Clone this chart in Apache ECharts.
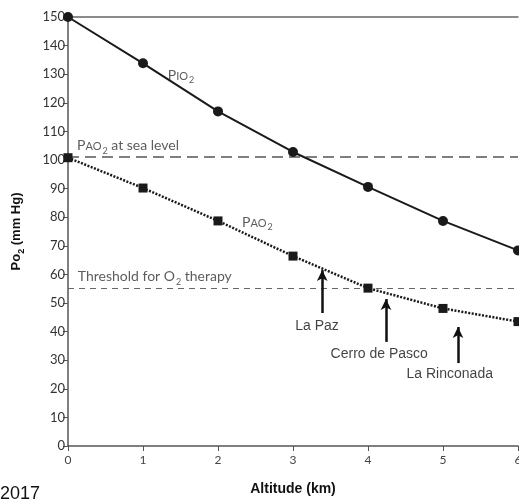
<!DOCTYPE html>
<html>
<head>
<meta charset="utf-8">
<script src="https://cdn.jsdelivr.net/npm/echarts@6/dist/echarts.min.js"></script>
<style>
  html, body { margin: 0; padding: 0; background: #fff; }
  #chart { width: 519px; height: 500px; }
</style>
</head>
<body>
<div id="chart"></div>
<script>
// altitude in km
var altitudes = [0, 1, 2, 3, 4, 5, 6];
// inspired O2 pressure
var pio2 = [150, 133.8, 117, 102.8, 90.6, 78.7, 68.4];
// alveolar O2 pressure
var pao2 = [100.8, 90.2, 78.7, 66.4, 55.2, 48.1, 43.5];

var seaLevelPao2 = 101;
var therapyThreshold = 55;

// cities: altitude of arrow, arrow bottom / tip, label position
var cityNames = ['La Paz', 'Cerro de Pasco', 'La Rinconada'];
var cityArrowX = [3.39, 4.24, 5.2];
var cityArrowFrom = [46.5, 36.4, 29];
var cityArrowTo = [61.5, 51.4, 41.6];
var cityLabelX = [3.32, 4.15, 5.09];
var cityLabelY = [42, 32.2, 25.2];

var yTicks = [0, 150, 10];
var xTicks = [0, 6, 1];

var gill = "Lato, 'Open Sans', sans-serif";
var arial = "'Liberation Sans', Arial, sans-serif";

var pair = function(xs, ys){
	return xs.map(function(x, i){ return [x, ys[i]]; });
};

// rich styles for the small-caps labels, sub = subscript (pushed down by padding)
var capsRich = {
	big: { fontFamily: gill, fontSize: 14, color: '#333', lineHeight: 14, verticalAlign: 'top' },
	sc: { fontFamily: gill, fontSize: 11, color: '#333', lineHeight: 11, verticalAlign: 'top', padding: [3, 0, 0, 0] },
	sub: { fontFamily: gill, fontSize: 9, color: '#333', lineHeight: 9, verticalAlign: 'top', padding: [8, 0, 0, 1] },
	txt: { fontFamily: gill, fontSize: 14, color: '#333', lineHeight: 14, verticalAlign: 'top' }
};

var noteItem = function(x, y, fmt){
	return {
		value: [x, y],
		label: { show: true, position: 'right', distance: 0, formatter: fmt, rich: capsRich }
	};
};

var notes = [
	noteItem(1.33, 129.7, '{big|P}{sc|IO}{sub|2}'),
	noteItem(0.12, 105.2, '{big|P}{sc|AO}{sub|2}{txt| at sea level}'),
	noteItem(2.32, 78.3, '{big|P}{sc|AO}{sub|2}'),
	noteItem(0.13, 59.2, '{txt|Threshold for O}{sub|2}{txt| therapy}')
];

var cityLabels = cityNames.map(function(n, i){
	return {
		value: [cityLabelX[i], cityLabelY[i]],
		label: { show: true, position: 'inside', formatter: n,
			fontFamily: arial, fontSize: 14, color: '#111' }
	};
});

var arrows = cityNames.map(function(n, i){
	return [{ coord: [cityArrowX[i], cityArrowFrom[i]] }, { coord: [cityArrowX[i], cityArrowTo[i]] }];
});

var chart = echarts.init(document.getElementById('chart'));
var option = {
	animation: false,
	backgroundColor: '#fff',
	grid: { left: 68, right: 1, top: 17, bottom: 54, outerBoundsMode: 'none', containLabel: false },
	xAxis: [{
		type: 'value',
		min: xTicks[0], max: xTicks[1], interval: xTicks[2],
		name: 'Altitude (km)',
		nameLocation: 'middle',
		nameGap: 36,
		nameTextStyle: { fontFamily: arial, fontWeight: 'bold', fontSize: 14, color: '#111' },
		axisLine: { lineStyle: { color: '#555', width: 1.5 } },
		axisTick: { length: 5, lineStyle: { color: '#555' } },
		axisLabel: { fontFamily: gill, fontSize: 12, color: '#444', margin: 8 },
		splitLine: { show: false }
	}, {
		type: 'value', position: 'top',
		min: xTicks[0], max: xTicks[1],
		axisLine: { show: true, lineStyle: { color: '#666', width: 1.5 } },
		axisTick: { show: false }, axisLabel: { show: false }, splitLine: { show: false }
	}],
	yAxis: {
		type: 'value',
		min: yTicks[0], max: yTicks[1], interval: yTicks[2],
		name: '{b|Po}{s|2}{b| (mm Hg)}',
		nameLocation: 'middle',
		nameGap: 45,
		nameTextStyle: {
			rich: {
				b: { fontFamily: arial, fontWeight: 'bold', fontSize: 13, color: '#111', lineHeight: 13, verticalAlign: 'top' },
				s: { fontFamily: arial, fontWeight: 'bold', fontSize: 9, color: '#111', lineHeight: 9, verticalAlign: 'top', padding: [7, 0, 0, 0] }
			}
		},
		axisLine: { show: true, lineStyle: { color: '#555', width: 1.5 } },
		axisTick: { show: true, length: 5, lineStyle: { color: '#555' } },
		axisLabel: { fontFamily: gill, fontSize: 13, color: '#333', margin: 3 },
		splitLine: { show: false }
	},
	series: [{
		name: 'PIO2', type: 'line',
		data: pair(altitudes, pio2),
		symbol: 'circle', symbolSize: 10,
		itemStyle: { color: '#1a1a1a' },
		lineStyle: { color: '#1a1a1a', width: 2 },
		z: 5
	}, {
		name: 'PAO2', type: 'line',
		data: pair(altitudes, pao2),
		symbol: 'rect', symbolSize: 9,
		itemStyle: { color: '#1a1a1a' },
		lineStyle: { color: '#1a1a1a', width: 2.5, type: [2, 1.5] },
		z: 5,
		markLine: {
			silent: true, symbol: 'none', label: { show: false },
			data: [
				{ yAxis: seaLevelPao2, lineStyle: { color: '#555', width: 1.5, type: [11, 6] } },
				{ yAxis: therapyThreshold, lineStyle: { color: '#666', width: 1.2, type: [6, 5] } }
			]
		}
	}, {
		name: 'arrows', type: 'line', data: [],
		markLine: {
			silent: true, symbol: ['none', 'arrow'], symbolSize: [8, 11],
			label: { show: false },
			lineStyle: { color: '#111', width: 2.5, type: 'solid' },
			data: arrows
		}
	}, {
		name: 'notes', type: 'scatter', symbolSize: 0,
		data: notes.concat(cityLabels),
		silent: true, z: 6
	}],
	graphic: [{
		type: 'text', left: 0, top: 485,
		style: { text: '2017', fontFamily: arial, fontSize: 18, fill: '#111' }
	}]
};
chart.setOption(option);
</script>
</body>
</html>
